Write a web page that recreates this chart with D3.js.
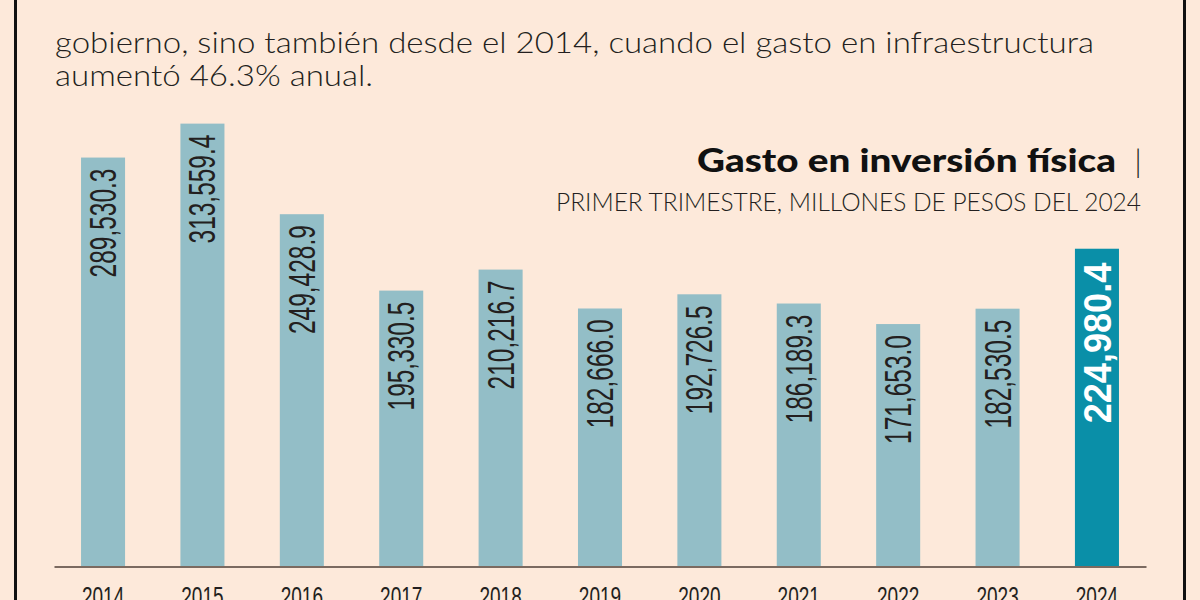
<!DOCTYPE html>
<html lang="es">
<head>
<meta charset="utf-8">
<title>Gasto en inversión física</title>
<script src="https://cdn.jsdelivr.net/npm/d3@7"></script>
<style>
    body { margin: 0; background: #fde9da; }
    svg { display: block; }
    .year text { font-family: "Liberation Sans", Arial, sans-serif; fill: #231f20; }
    .light { font-family: "Lato Light", "Lato", sans-serif; font-weight: 300; }
</style>
</head>
<body>
<div id="chart"></div>
<script>
// data
var years = ["2014", "2015", "2016", "2017", "2018", "2019", "2020", "2021", "2022", "2023", "2024"];
var values = [289530.3, 313559.4, 249428.9, 195330.5, 210216.7, 182666.0, 192726.5, 186189.3, 171653.0, 182530.5, 224980.4];
var valueLabels = ["289,530.3", "313,559.4", "249,428.9", "195,330.5", "210,216.7", "182,666.0",
                   "192,726.5", "186,189.3", "171,653.0", "182,530.5", "224,980.4"];
var introLines = ["gobierno, sino también desde el 2014, cuando el gasto en infraestructura",
                  "aumentó 46.3% anual."];
var title = "Gasto en inversión física";
var subtitle = "PRIMER TRIMESTRE, MILLONES DE PESOS DEL 2024";

var width = 1200, height = 600;
var baseY = 566.5;
var lightBar = "#93bec7", darkBar = "#0a8fa8", ink = "#231f20";

var svg = d3.select("#chart").append("svg")
    .attr("width", width)
    .attr("height", height);

svg.append("rect")
    .attr("width", width).attr("height", height)
    .attr("fill", "#fde9da");

// frame lines left and right
svg.append("line").attr("x1", 15.5).attr("x2", 15.5).attr("y1", 0).attr("y2", height)
    .attr("stroke", "#111").attr("stroke-width", 3);
svg.append("line").attr("x1", 1184.5).attr("x2", 1184.5).attr("y1", 0).attr("y2", height)
    .attr("stroke", "#111").attr("stroke-width", 3);

// intro paragraph
svg.selectAll(".intro")
    .data(introLines)
    .enter().append("text")
    .attr("class", "intro light")
    .attr("x", 55)
    .attr("y", function(d, i) { return 53 + i * 33; })
    .attr("textLength", function(d, i) { return i == 0 ? 1039 : 318; })
    .attr("lengthAdjust", "spacingAndGlyphs")
    .style("font-size", "29px")
    .style("fill", ink)
    .text(function(d) { return d; });

// title block
svg.append("text")
    .attr("x", 1116).attr("y", 172)
    .attr("text-anchor", "end")
    .attr("textLength", 419)
    .attr("lengthAdjust", "spacingAndGlyphs")
    .style("font-family", "Lato, sans-serif")
    .style("font-weight", 900)
    .style("font-size", "32px")
    .style("fill", "#111")
    .text(title);

svg.append("text")
    .attr("class", "light")
    .attr("x", 1142).attr("y", 172)
    .attr("text-anchor", "end")
    .style("font-size", "32px")
    .style("fill", ink)
    .text("|");

svg.append("text")
    .attr("class", "light")
    .attr("x", 1141).attr("y", 211)
    .attr("text-anchor", "end")
    .attr("textLength", 585)
    .attr("lengthAdjust", "spacingAndGlyphs")
    .style("font-size", "25px")
    .style("fill", ink)
    .text(subtitle);

// scales
var x = d3.scaleBand()
    .domain(years)
    .range([54, 1146])
    .paddingInner(0.557)
    .paddingOuter(0.272);

var y = d3.scaleLinear()
    .domain([0, 320000])
    .range([baseY, baseY - 320000 / 708]);

var rows = years.map(function(d, i) {
    return { year: d, value: values[i], label: valueLabels[i], last: i == years.length - 1 };
});

svg.selectAll(".bar")
    .data(rows)
    .enter().append("rect")
    .attr("class", "bar")
    .attr("x", function(d) { return x(d.year); })
    .attr("y", function(d) { return y(d.value); })
    .attr("width", x.bandwidth())
    .attr("height", function(d) { return baseY - y(d.value); })
    .attr("fill", function(d) { return d.last ? darkBar : lightBar; });

// rotated value labels inside the bars
svg.selectAll(".val")
    .data(rows)
    .enter().append("text")
    .attr("class", "val")
    .attr("text-anchor", "end")
    .attr("transform", function(d) {
        var cx = x(d.year) + x.bandwidth() / 2;
        if (d.last) {
            return "translate(" + (cx + 14.5) + "," + (y(d.value) + 14) + ") rotate(-90) scale(0.95,1)";
        }
        return "translate(" + (cx + 13) + "," + (y(d.value) + 11) + ") rotate(-90) scale(0.68,1)";
    })
    .style("font-family", "'Liberation Sans', Arial, sans-serif")
    .style("font-weight", function(d) { return d.last ? "bold" : "normal"; })
    .style("font-size", function(d) { return d.last ? "38px" : "36px"; })
    .style("fill", function(d) { return d.last ? "#ffffff" : ink; })
    .text(function(d) { return d.label; });

// baseline and year labels
var xAxis = d3.axisBottom(x).tickSize(0).tickPadding(0);

var gx = svg.append("g")
    .attr("class", "year")
    .attr("transform", "translate(0," + baseY + ")")
    .call(xAxis);

gx.select(".domain")
    .attr("stroke", "#7b6a60")
    .attr("stroke-width", 2);

gx.selectAll(".tick text")
    .attr("dy", null)
    .attr("y", 0)
    .attr("transform", "translate(0,39) scale(0.68,1)")
    .style("font-size", "28px");
</script>
</body>
</html>
